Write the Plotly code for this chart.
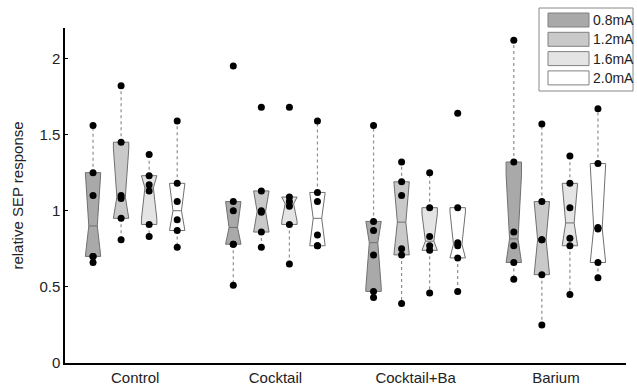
import numpy as np
import plotly.graph_objects as go

groups = ["Control", "Cocktail", "Cocktail+Ba", "Barium"]
currents = ["0.8mA", "1.2mA", "1.6mA", "2.0mA"]

# relative SEP response, per group (Control, Cocktail, Cocktail+Ba, Barium)
sep_08 = [
    [1.56, 1.25, 1.10, 0.70, 0.70, 0.66],
    [1.95, 1.06, 1.00, 0.78, 0.78, 0.51],
    [1.56, 0.93, 0.87, 0.71, 0.47, 0.43],
    [2.12, 1.32, 0.86, 0.77, 0.66, 0.55],
]
sep_12 = [
    [1.82, 1.45, 1.10, 1.08, 0.95, 0.81],
    [1.68, 1.13, 1.00, 0.99, 0.86, 0.76],
    [1.32, 1.19, 1.10, 0.75, 0.71, 0.39],
    [1.57, 1.06, 0.81, 0.81, 0.58, 0.25],
]
sep_16 = [
    [1.37, 1.23, 1.17, 1.13, 0.91, 0.83],
    [1.68, 1.09, 1.06, 1.03, 0.91, 0.65],
    [1.25, 1.02, 0.83, 0.77, 0.74, 0.46],
    [1.36, 1.18, 1.02, 0.82, 0.77, 0.45],
]
sep_20 = [
    [1.59, 1.18, 1.06, 0.94, 0.87, 0.76],
    [1.59, 1.12, 1.06, 0.84, 0.77, 0.77],
    [1.64, 1.02, 0.79, 0.77, 0.69, 0.47],
    [1.67, 1.31, 0.89, 0.88, 0.66, 0.56],
]

y_ticks = [0, 0.5, 1, 1.5, 2]
y_tick_labels = ["0", "0.5", "1", "1.5", "2"]

series = [sep_08, sep_12, sep_16, sep_20]
fills = ["#a9a9a9", "#c9c9c9", "#e4e4e4", "#ffffff"]
offsets = [-0.3, -0.1, 0.1, 0.3]
BOX_W = 0.11
NOTCH_FRAC = 0.55
EDGE = "#707070"


def mprctile(vals, p):
    x = np.sort(np.asarray(vals, dtype=float))
    n = len(x)
    pos = n * p / 100.0 + 0.5
    pos = min(max(pos, 1.0), float(n))
    lo = int(np.floor(pos))
    hi = min(lo + 1, n)
    frac = pos - lo
    return x[lo - 1] + frac * (x[hi - 1] - x[lo - 1])


def stats(vals):
    x = np.asarray(vals, dtype=float)
    q1 = mprctile(x, 25)
    q3 = mprctile(x, 75)
    med = float(np.median(x))
    iqr = q3 - q1
    hi = float(x[x <= q3 + 1.5 * iqr].max())
    lo = float(x[x >= q1 - 1.5 * iqr].min())
    notch = 1.57 * iqr / np.sqrt(len(x))
    return q1, med, q3, lo, hi, notch


fig = go.Figure()

box_traces, median_traces, whisker_traces = [], [], []
for si, data in enumerate(series):
    xs = [g + 1 + offsets[si] for g in range(len(groups))]
    st = [stats(v) for v in data]
    wx, wy, bx, by, mx, my = [], [], [], [], [], []
    hw = BOX_W / 2
    nw = hw * NOTCH_FRAC
    for xc, (q1, med, q3, lo, hi, n) in zip(xs, st):
        wx += [xc, xc, None, xc, xc, None]
        wy += [q3, hi, None, q1, lo, None]
        nlo = max(med - n, q1)
        nhi = min(med + n, q3)
        bx += [xc - hw, xc - hw, xc - nw, xc - hw, xc - hw,
               xc + hw, xc + hw, xc + nw, xc + hw, xc + hw, xc - hw, None]
        by += [q1, nlo, med, nhi, q3, q3, nhi, med, nlo, q1, q1, None]
        mx += [xc - nw, xc + nw, None]
        my += [med, med, None]
    whisker_traces.append(go.Scatter(x=wx, y=wy, mode="lines",
                                     line=dict(color="#8f8f8f", width=1.2, dash="dot"),
                                     showlegend=False, hoverinfo="skip"))
    box_traces.append(go.Scatter(x=bx, y=by, mode="lines", fill="toself",
                                 fillcolor=fills[si], line=dict(color=EDGE, width=1),
                                 name=currents[si], showlegend=False, hoverinfo="skip"))
    median_traces.append(go.Scatter(x=mx, y=my, mode="lines",
                                    line=dict(color=EDGE, width=1),
                                    showlegend=False, hoverinfo="skip"))

for t in whisker_traces + box_traces + median_traces:
    fig.add_trace(t)

for si, data in enumerate(series):
    px, py = [], []
    for g, vals in enumerate(data):
        px += [g + 1 + offsets[si]] * len(vals)
        py += list(vals)
    fig.add_trace(go.Scatter(x=px, y=py, mode="markers",
                             marker=dict(color="black", size=7),
                             showlegend=False, hoverinfo="skip"))

# custom legend (paper coords computed from pixel layout)
L, R, T, B = 65, 11, 28, 25
W, H = 637, 388
pw, ph = W - L - R, H - T - B


def pxx(p):
    return (p - L) / pw


def pyy(p):
    return (H - B - p) / ph


shapes = [dict(type="rect", xref="paper", yref="paper",
               x0=pxx(539), x1=pxx(633), y0=pyy(91), y1=pyy(8),
               line=dict(color="#888888", width=1), fillcolor="white", layer="above")]
annotations = []
for i, c in enumerate(currents):
    top = 13 + i * 19.3
    shapes.append(dict(type="rect", xref="paper", yref="paper",
                       x0=pxx(548), x1=pxx(589), y0=pyy(top + 14), y1=pyy(top),
                       line=dict(color="#808080", width=1), fillcolor=fills[i], layer="above"))
    annotations.append(dict(xref="paper", yref="paper", x=pxx(591), y=pyy(top + 7),
                            text=c, showarrow=False, xanchor="left", yanchor="middle",
                            font=dict(size=14, color="#222222")))

fig.update_layout(
    width=W, height=H,
    margin=dict(l=L, r=R, t=T, b=B, pad=0),
    paper_bgcolor="white", plot_bgcolor="white",
    font=dict(family="Liberation Sans, Arial, sans-serif", size=15, color="#222222"),
    shapes=shapes, annotations=annotations,
    showlegend=False,
)
fig.update_xaxes(range=[0.5, 4.5], tickvals=[1, 2, 3, 4], ticktext=groups,
                 showline=True, linecolor="black", linewidth=1.5, ticks="",
                 showgrid=False, zeroline=False, tickfont=dict(size=15),
                 automargin=False)
fig.update_yaxes(range=[0, 2.2], tickvals=y_ticks, ticktext=y_tick_labels,
                 showline=True, linecolor="black", linewidth=1.5,
                 ticks="inside", ticklen=3, tickcolor="black",
                 showgrid=False, zeroline=False, tickfont=dict(size=15),
                 automargin=False,
                 title=dict(text="relative SEP response", standoff=12,
                            font=dict(size=15)))

fig.write_html("out.html", config={"displayModeBar": False},
               post_script="document.body.style.margin='0px';")
